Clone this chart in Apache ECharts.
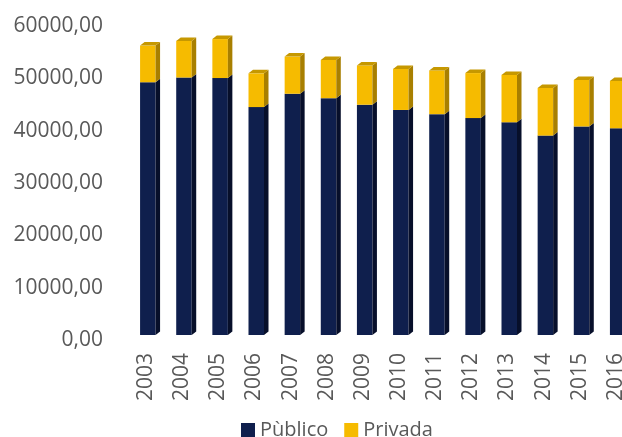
<!DOCTYPE html>
<html>
<head>
<meta charset="utf-8">
<script src="https://cdn.jsdelivr.net/npm/echarts@6/dist/echarts.min.js"></script>
<style>html,body{margin:0;padding:0;background:#fff}#c{width:622px;height:437px}</style>
</head>
<body>
<div id="c"></div>
<script>
const years = ['2003','2004','2005','2006','2007','2008','2009','2010','2011','2012','2013','2014','2015','2016'];
const publico = [48300, 49200, 49100, 43550, 46100, 45250, 44000, 43000, 42200, 41450, 40650, 38100, 39850, 39500];
const privada = [7000, 7000, 7450, 6450, 7100, 7300, 7500, 7850, 8350, 8600, 9050, 9100, 8900, 9050];
const yTicks = [0, 10000, 20000, 30000, 40000, 50000, 60000];

const pubData = years.map((y, i) => [i, 0, publico[i]]);
const priData = years.map((y, i) => [i, publico[i], publico[i] + privada[i]]);

function makeRender(front, side, topC, drawTop) {
  return function (params, api) {
    const i = api.value(0), lo = api.value(1), hi = api.value(2);
    const pLo = api.coord([i, lo]);
    const pHi = api.coord([i, hi]);
    const dy = -5;
    const cx = pLo[0];
    const L = cx - 6, R = cx + 9.5, D = 4.5, Dz = 3.5;
    const top = pHi[1] + dy, bot = pLo[1] + dy;
    const children = [
      {type: 'rect', shape: {x: L, y: top, width: R - L, height: bot - top}, style: {fill: front}},
      {type: 'polygon', shape: {points: [[R, top], [R + D, top - Dz], [R + D, bot - Dz], [R, bot]]}, style: {fill: side}}
    ];
    if (drawTop) {
      children.push({type: 'polygon', shape: {points: [[L, top], [L + D, top - Dz], [R + D, top - Dz], [R, top]]}, style: {fill: topC}});
    }
    return {type: 'group', children: children};
  };
}

const chart = echarts.init(document.getElementById('c'));
chart.setOption({
  animation: false,
  textStyle: {fontFamily: 'Open Sans', color: '#595959'},
  grid: {left: 128, width: 506, top: 26, bottom: 97, containLabel: false, outerBoundsMode: 'none'},
  legend: {
    left: 236, top: 415, itemWidth: 14, itemHeight: 14, itemGap: 16, icon: 'rect',
    textStyle: {fontFamily: 'Open Sans', fontSize: 20, color: '#595959'},
    data: ['Pùblico', 'Privada']
  },
  xAxis: {
    type: 'category', data: years,
    axisLine: {show: false}, axisTick: {show: false},
    axisLabel: {rotate: 90, margin: 13, fontSize: 21, color: '#595959', fontFamily: 'Open Sans', hideOverlap: false}
  },
  yAxis: {
    type: 'value', min: 0, max: 60000, interval: 10000,
    splitLine: {show: false}, axisLine: {show: false}, axisTick: {show: false},
    axisLabel: {
      margin: 25, fontSize: 21, color: '#595959', fontFamily: 'Open Sans',
      formatter: v => yTicks.includes(v) ? v.toFixed(2).replace('.', ',') : ''
    }
  },
  series: [
    {name: 'Pùblico', type: 'custom', itemStyle: {color: '#0f1f4d'},
     renderItem: makeRender('#0f1f4d', '#070f2a', '#1a2a5a', false),
     encode: {x: 0, y: [1, 2]}, data: pubData},
    {name: 'Privada', type: 'custom', itemStyle: {color: '#f6bb00'},
     renderItem: makeRender('#f6bb00', '#a87f00', '#c69800', true),
     encode: {x: 0, y: [1, 2]}, data: priData}
  ]
});
</script>
</body>
</html>
